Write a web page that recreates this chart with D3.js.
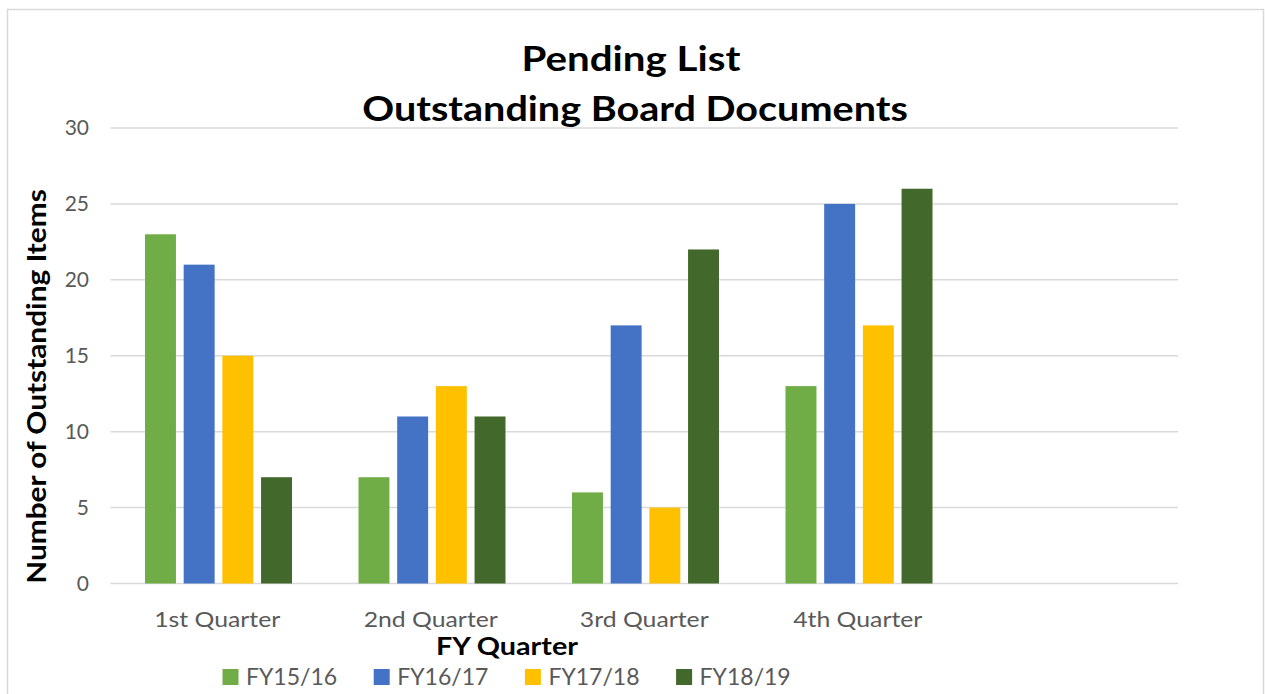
<!DOCTYPE html>
<html>
<head>
<meta charset="utf-8">
<script src="https://cdn.jsdelivr.net/npm/d3@7"></script>
<style>
  body { margin: 0; background: #fff; }
  text { font-family: Lato, "Open Sans", sans-serif; }
</style>
</head>
<body>
<div id="chart"></div>
<script>
// Data
const quarters = ["1st Quarter", "2nd Quarter", "3rd Quarter", "4th Quarter", ""];
const seriesNames = ["FY15/16", "FY16/17", "FY17/18", "FY18/19"];
const fy1516 = [23, 7, 6, 13];
const fy1617 = [21, 11, 17, 25];
const fy1718 = [15, 13, 5, 17];
const fy1819 = [7, 11, 22, 26];
const yTicks = [0, 5, 10, 15, 20, 25, 30];
const colors = ["#70ad47", "#4472c4", "#ffc000", "#43682b"];

const seriesValues = [fy1516, fy1617, fy1718, fy1819];

const width = 1265, height = 694;
const plot = {left: 110.5, right: 1178, top: 128, bottom: 583.5};

// Widen text a bit, the original font runs wider than Lato
function stretch(sel, k) {
    sel.each(function() {
        const len = this.getComputedTextLength();
        if (len > 0) {
            d3.select(this)
                .attr("textLength", len * k)
                .attr("lengthAdjust", "spacingAndGlyphs");
        }
    });
}

const svg = d3.select("#chart")
    .append("svg")
    .attr("width", width)
    .attr("height", height);

// outer chart frame
svg.append("rect")
    .attr("x", 7.5)
    .attr("y", 9.5)
    .attr("width", 1256)
    .attr("height", 720)
    .attr("fill", "#fff")
    .attr("stroke", "#d9d9d9")
    .attr("stroke-width", 1.5);

// Scales
const x0 = d3.scaleBand()
    .domain(quarters.map((q, i) => i))
    .range([plot.left, plot.right]);

const x1 = d3.scaleBand()
    .domain(seriesNames)
    .range([34.5, 181.5])
    .paddingInner(0.2);

const y = d3.scaleLinear()
    .domain([0, 30])
    .range([plot.bottom, plot.top]);

// Gridlines
svg.append("g")
    .selectAll("line")
    .data(yTicks)
    .join("line")
    .attr("x1", plot.left)
    .attr("x2", plot.right)
    .attr("y1", d => y(d))
    .attr("y2", d => y(d))
    .attr("stroke", "#d9d9d9")
    .attr("stroke-width", 1.5);

// Y tick labels
svg.append("g")
    .selectAll("text")
    .data(yTicks)
    .join("text")
    .attr("x", 89)
    .attr("y", d => y(d))
    .attr("dy", "0.35em")
    .attr("text-anchor", "end")
    .attr("fill", "#595959")
    .style("font-size", "21px")
    .text(d => d);

// Bars
const groups = svg.append("g")
    .selectAll("g")
    .data(seriesNames)
    .join("g")
    .attr("fill", (d, i) => colors[i]);

groups.selectAll("rect")
    .data((s, si) => seriesValues[si].map((v, qi) => ({s, v, qi})))
    .join("rect")
    .attr("x", d => x0(d.qi) + x1(d.s))
    .attr("width", x1.bandwidth())
    .attr("y", d => y(d.v))
    .attr("height", d => y(0) - y(d.v));

// Category labels
svg.append("g")
    .selectAll("text")
    .data(quarters)
    .join("text")
    .attr("x", (d, i) => x0(i) + x0.bandwidth() / 2)
    .attr("y", 627)
    .attr("text-anchor", "middle")
    .attr("fill", "#595959")
    .style("font-size", "21px")
    .text(d => d)
    .call(stretch, 1.18);

// Title
const title = svg.append("g")
    .attr("fill", "#000")
    .style("font-size", "35px")
    .style("font-weight", "bold");
title.append("text").attr("x", 631).attr("y", 71)
    .attr("text-anchor", "middle").text("Pending List").call(stretch, 1.15);
title.append("text").attr("x", 635).attr("y", 121)
    .attr("text-anchor", "middle").text("Outstanding Board Documents").call(stretch, 1.13);

// Axis titles
svg.append("text")
    .attr("x", 507)
    .attr("y", 655)
    .attr("text-anchor", "middle")
    .style("font-size", "25px")
    .style("font-weight", "bold")
    .text("FY Quarter")
    .call(stretch, 1.15);

svg.append("text")
    .attr("transform", "translate(46,386.5) rotate(-90)")
    .attr("text-anchor", "middle")
    .style("font-size", "26px")
    .style("font-weight", "bold")
    .text("Number of Outstanding Items")
    .call(stretch, 1.146);

// Legend
const legend = svg.append("g")
    .selectAll("g")
    .data(seriesNames)
    .join("g")
    .attr("transform", (d, i) => `translate(${222.5 + i * 151.2},669)`);

legend.append("rect")
    .attr("width", 16)
    .attr("height", 16)
    .attr("fill", (d, i) => colors[i]);

legend.append("text")
    .attr("x", 23.5)
    .attr("y", 8)
    .attr("dy", "0.36em")
    .attr("fill", "#595959")
    .style("font-size", "23px")
    .text(d => d);
</script>
</body>
</html>
